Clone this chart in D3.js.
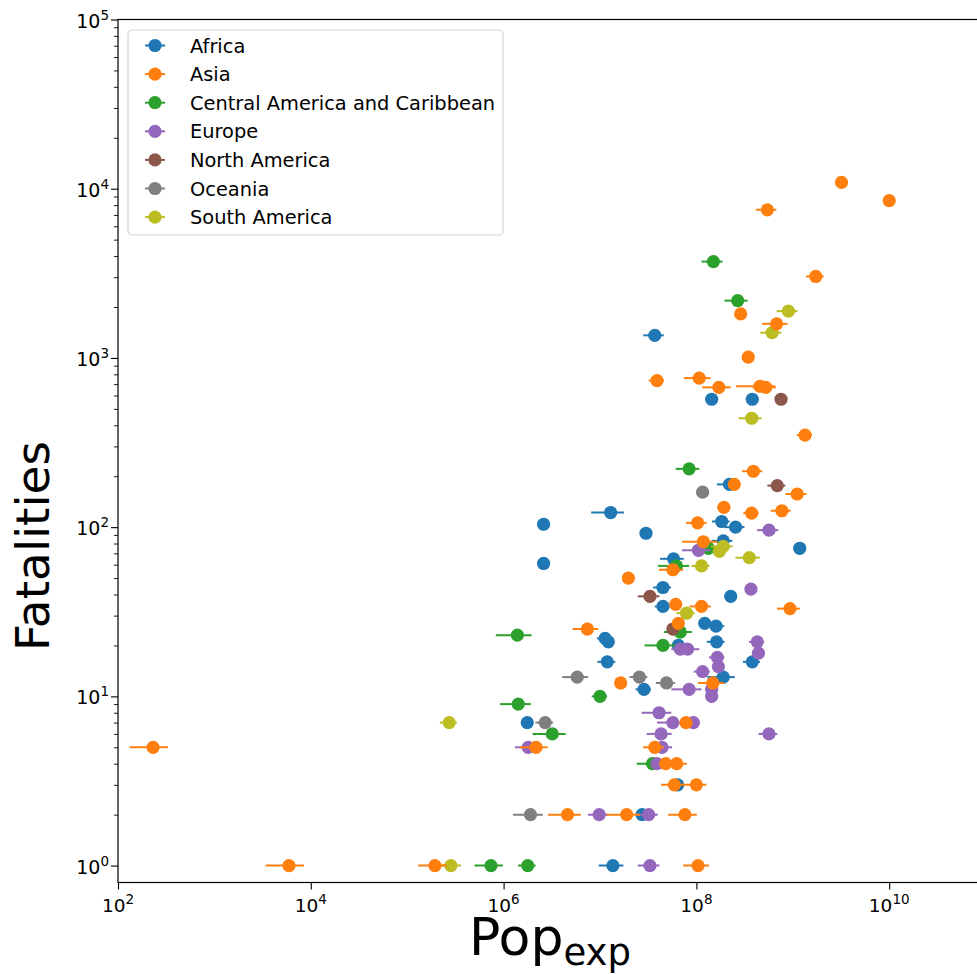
<!DOCTYPE html>
<html>
<head>
<meta charset="utf-8">
<script src="https://cdn.jsdelivr.net/npm/d3@7/dist/d3.min.js"></script>
<style>
  body { margin: 0; background: #fff; }
  text { font-family: "DejaVu Sans", sans-serif; fill: #000; }
</style>
</head>
<body>
<svg id="chart"></svg>
<script>
// Each point: [population exposed, fatalities, error on population]
var africa = [
  [3.7e7, 1360, 8.9e6], [1.44e8, 570, 0], [3.8e8, 570, 0], [1.29e7, 122, 4.8e6],
  [2.6e6, 104, 0], [2.6e6, 61, 0], [3.0e7, 92, 3e6], [1.83e8, 108, 3.8e7],
  [2.55e8, 100, 6e7], [2.2e8, 179, 5.7e7], [1.18e9, 75, 0], [1.9e8, 83, 4.6e7],
  [5.8e7, 65, 1.6e7], [4.5e7, 44, 9.5e6], [2.27e8, 39, 0], [4.5e7, 34, 8e6],
  [1.22e8, 27, 1e7], [1.6e8, 26, 3.4e7], [1.13e7, 22, 2e6], [1.22e7, 21, 1e6],
  [6.5e7, 20, 5e6], [1.62e8, 21, 3.4e7], [1.19e7, 16, 2.5e6], [3.8e8, 16, 7.6e7],
  [1.9e8, 13, 6e7], [2.86e7, 11, 5.2e6], [1.76e6, 7, 2e5], [2.73e7, 2, 3e6],
  [6.4e7, 3, 5e6], [1.36e7, 1, 3.9e6]
];
var asia = [
  [231, 5, 99], [5940, 1, 2550], [1.94e5, 1, 6.4e4], [1.04e8, 1, 3.1e7],
  [4.6e6, 2, 1.7e6], [1.89e7, 2, 7.2e6], [7.6e7, 2, 2.5e7], [5.9e7, 3, 1.6e7],
  [1.0e8, 3, 2.7e7], [4.8e7, 4, 4e6], [6.25e7, 4, 1.7e7], [2.17e6, 5, 7e5],
  [3.7e7, 5, 9e6], [7.8e7, 7, 5e6], [1.64e7, 12, 0], [1.48e8, 12, 4.4e7],
  [7.4e6, 25, 2.2e6], [1.97e7, 50, 0], [5.7e7, 56, 1.6e7], [6.1e7, 35, 5e6],
  [1.13e8, 34, 2.8e7], [9.35e8, 33, 2.5e8], [6.5e7, 27, 5e6], [1.18e8, 82, 4.7e7],
  [1.03e8, 106, 2.5e7], [1.93e8, 131, 2.9e7], [3.74e8, 121, 6.7e7], [7.7e8, 125, 1.8e8],
  [1.11e9, 157, 2.7e8], [2.47e8, 179, 2e7], [3.9e8, 214, 9.3e7], [1.34e9, 350, 2.4e8],
  [3.2e9, 10900, 0], [1.0e10, 8500, 0], [5.45e8, 7500, 1.3e8], [1.73e9, 3030, 3.6e8],
  [2.88e8, 1820, 0], [6.8e8, 1590, 2e8], [3.45e8, 1010, 0], [3.9e7, 735, 7e6],
  [1.07e8, 760, 3.3e7], [1.71e8, 670, 5.6e7], [4.57e8, 680, 2e8], [5.24e8, 670, 1.4e8]
];
var centralAmerica = [
  [1.5e8, 3710, 3.7e7], [2.68e8, 2180, 7.2e7], [8.4e7, 221, 2.3e7], [1.33e8, 75, 0],
  [6.2e7, 59, 2.2e7], [6.8e7, 24, 2.2e7], [1.39e6, 23, 5.6e5], [4.5e7, 20, 1.6e7],
  [1.0e7, 10, 1.8e6], [1.42e6, 9, 5e5], [3.2e6, 6, 1.2e6], [3.5e7, 4, 1.1e7],
  [7.4e5, 1, 2.4e5], [1.78e6, 1, 3.7e5]
];
var europe = [
  [5.66e8, 96, 1.4e8], [1.05e8, 73, 3.4e7], [3.68e8, 43, 0], [6.8e7, 19, 0],
  [8.1e7, 19, 2.6e7], [4.28e8, 21, 7.7e7], [4.4e8, 18, 0], [1.65e8, 17, 3e7],
  [1.69e8, 15, 0], [1.16e8, 14, 2.2e7], [1.44e8, 11, 2e7], [1.44e8, 10, 0],
  [8.4e7, 11, 2.9e7], [9.3e7, 7, 5e6], [5.66e8, 6, 1.25e8], [5.7e7, 7, 1.8e7],
  [4.1e7, 8, 1.4e7], [4.3e7, 6, 1.25e7], [4.4e7, 5, 1.2e7], [3.9e7, 4, 3e6],
  [1.8e6, 5, 4.9e5], [9.8e6, 2, 2.3e6], [3.2e7, 2, 7.7e6], [3.3e7, 1, 8.3e6]
];
var northAmerica = [
  [7.55e8, 570, 0], [6.9e8, 176, 1.45e8], [3.3e7, 39, 8.3e6], [5.7e7, 25, 0]
];
var oceania = [
  [1.16e8, 161, 0], [5.8e6, 13, 1.74e6], [2.56e7, 13, 5.4e6], [4.9e7, 12, 1.1e7],
  [2.7e6, 7, 5.6e5], [1.9e6, 2, 6.5e5]
];
var southAmerica = [
  [9.0e8, 1890, 2.2e8], [6.1e8, 1410, 1.5e8], [3.75e8, 440, 1e8], [1.73e8, 72, 0],
  [1.9e8, 77, 4.8e7], [3.54e8, 66, 1e8], [1.13e8, 59, 2.4e7], [7.9e7, 31, 1.7e7],
  [2.73e5, 7, 5.5e4], [2.84e5, 1, 7.7e4]
];

var regionNames = ["Africa", "Asia", "Central America and Caribbean", "Europe",
                   "North America", "Oceania", "South America"];
var regionData = [africa, asia, centralAmerica, europe, northAmerica, oceania, southAmerica];
var regionColors = ["#1f77b4", "#ff7f0e", "#2ca02c", "#9467bd", "#8c564b", "#7f7f7f", "#bcbd22"];
// order the groups are painted in (last one on top)
var drawOrder = [0, 2, 3, 4, 5, 6, 1];

var xTickExp = [2, 4, 6, 8, 10];
var yTickExp = [0, 1, 2, 3, 4, 5];

// Plot area inside the 977x974 picture (right spine falls outside)
var width = 977, height = 974,
    plot = {left: 118, top: 19.5, right: 985.6, bottom: 882.5};

var x = d3.scaleLog()
    .domain([1e2, 1e11])
    .range([plot.left, plot.right]);

var y = d3.scaleLog()
    .domain([Math.pow(10, -0.1), 1e5])
    .range([plot.bottom, plot.top]);

var svg = d3.select("#chart")
    .attr("width", width)
    .attr("height", height);

svg.append("defs").append("clipPath")
    .attr("id", "clip")
    .append("rect")
    .attr("x", plot.left).attr("y", plot.top)
    .attr("width", plot.right - plot.left)
    .attr("height", plot.bottom - plot.top);

// Points with horizontal error bars
var points = svg.append("g").attr("clip-path", "url(#clip)");

drawOrder.forEach(function(k) {
  var g = points.append("g").attr("class", "region");
  var col = regionColors[k];

  g.selectAll(".err")
    .data(regionData[k].filter(function(d) { return d[2] > 0; }))
    .enter().append("line")
    .attr("class", "err")
    .attr("x1", function(d) { return x(d[0] - d[2]); })
    .attr("x2", function(d) { return x(d[0] + d[2]); })
    .attr("y1", function(d) { return y(d[1]); })
    .attr("y2", function(d) { return y(d[1]); })
    .attr("stroke", col)
    .attr("stroke-width", 2);

  g.selectAll(".dot")
    .data(regionData[k])
    .enter().append("circle")
    .attr("class", "dot")
    .attr("cx", function(d) { return x(d[0]); })
    .attr("cy", function(d) { return y(d[1]); })
    .attr("r", 6.6)
    .attr("fill", col);
});

// Spines
svg.append("rect")
    .attr("x", plot.left).attr("y", plot.top)
    .attr("width", plot.right - plot.left)
    .attr("height", plot.bottom - plot.top)
    .attr("fill", "none")
    .attr("stroke", "#000")
    .attr("stroke-width", 1.2);

// x axis
var xAxis = d3.axisBottom(x)
    .tickValues(xTickExp.map(function(e) { return Math.pow(10, e); }))
    .tickSize(7)
    .tickFormat("");

var gx = svg.append("g")
    .attr("transform", "translate(0," + plot.bottom + ")")
    .call(xAxis);
gx.select(".domain").remove();
gx.selectAll(".tick line").attr("stroke-width", 1.1);

// y axis, major and minor ticks
var yMinor = [];
yTickExp.slice(0, -1).forEach(function(e) {
  for (var m = 2; m < 10; m++) yMinor.push(m * Math.pow(10, e));
});

var gyMinor = svg.append("g")
    .attr("transform", "translate(" + plot.left + ",0)")
    .call(d3.axisLeft(y).tickValues(yMinor).tickSize(4).tickFormat(""));
gyMinor.select(".domain").remove();
gyMinor.selectAll(".tick line").attr("stroke-width", 0.9);

var gy = svg.append("g")
    .attr("transform", "translate(" + plot.left + ",0)")
    .call(d3.axisLeft(y)
      .tickValues(yTickExp.map(function(e) { return Math.pow(10, e); }))
      .tickSize(7)
      .tickFormat(""));
gy.select(".domain").remove();
gy.selectAll(".tick line").attr("stroke-width", 1.1);

// Tick labels as 10 with a superscript exponent
function powerLabel(sel) {
  sel.append("tspan").text("10");
  sel.append("tspan")
      .attr("dy", -8)
      .attr("font-size", 13.5)
      .text(function(d) { return d; });
}

svg.selectAll(".xlabel")
    .data(xTickExp)
    .enter().append("text")
    .attr("class", "xlabel")
    .attr("x", function(d) { return x(Math.pow(10, d)); })
    .attr("y", plot.bottom + 29.5)
    .attr("text-anchor", "middle")
    .attr("font-size", 18.5)
    .call(powerLabel);

svg.selectAll(".ylabel")
    .data(yTickExp)
    .enter().append("text")
    .attr("class", "ylabel")
    .attr("x", plot.left - 9)
    .attr("y", function(d) { return y(Math.pow(10, d)) + 8; })
    .attr("text-anchor", "end")
    .attr("font-size", 19)
    .call(powerLabel);

// Axis titles
var xt = svg.append("text")
    .attr("x", 550)
    .attr("y", 955)
    .attr("text-anchor", "middle")
    .attr("font-size", 52);
xt.append("tspan").text("Pop");
xt.append("tspan").attr("dy", 10).attr("font-size", 37).text("exp");

svg.append("text")
    .attr("transform", "translate(49,546) rotate(-90)")
    .attr("text-anchor", "middle")
    .attr("font-size", 47)
    .text("Fatalities");

// Legend
var legend = svg.append("g").attr("transform", "translate(128,30)");

legend.append("rect")
    .attr("x", 0).attr("y", 0)
    .attr("width", 375).attr("height", 205)
    .attr("rx", 4)
    .attr("fill", "#fff")
    .attr("fill-opacity", 0.8)
    .attr("stroke", "#d6d6d6")
    .attr("stroke-width", 1.2);

var items = legend.selectAll(".item")
    .data(regionNames)
    .enter().append("g")
    .attr("class", "item")
    .attr("transform", function(d, i) { return "translate(0," + (15.5 + i * 28.6) + ")"; });

items.append("line")
    .attr("x1", 17).attr("x2", 37)
    .attr("stroke", function(d, i) { return regionColors[i]; })
    .attr("stroke-width", 2);

items.append("circle")
    .attr("cx", 27)
    .attr("r", 6.6)
    .attr("fill", function(d, i) { return regionColors[i]; });

items.append("text")
    .attr("x", 62)
    .attr("y", 7)
    .attr("font-size", 19.4)
    .text(function(d) { return d; });
</script>
</body>
</html>
